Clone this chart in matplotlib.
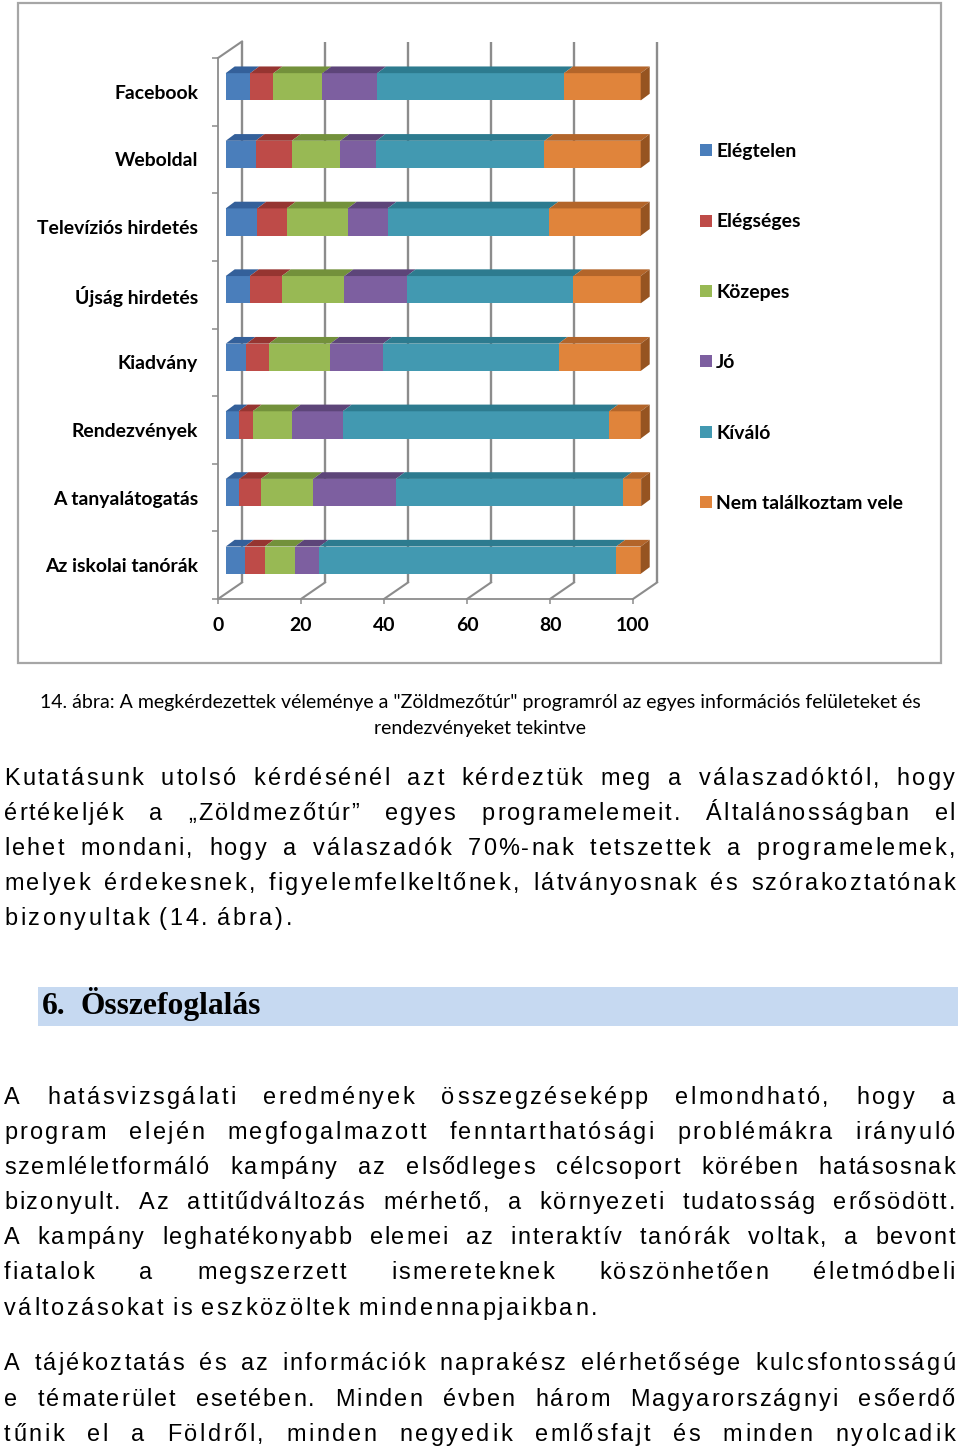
import matplotlib
matplotlib.use("Agg")
import matplotlib.pyplot as plt
import matplotlib.transforms as mtransforms
from matplotlib.patches import Polygon, Rectangle
from matplotlib.font_manager import FontProperties
import numpy as np

# chart data (bottom to top, as drawn)
CATEGORIES = ["Az iskolai tanórák", "A tanyalátogatás", "Rendezvények", "Kiadvány",
              "Újság hirdetés", "Televíziós hirdetés", "Weboldal", "Facebook"]
SERIES = ["Elégtelen", "Elégséges", "Közepes", "Jó", "Kíváló", "Nem találkoztam vele"]
elegtelen = [4.6, 3.3, 3.1, 5.0, 5.8, 7.6, 7.2, 5.9]
elegseges = [4.8, 5.2, 3.4, 5.4, 7.7, 7.1, 8.7, 5.6]
kozepes = [7.3, 12.6, 9.4, 14.8, 15.1, 14.7, 11.7, 11.8]
jo = [5.9, 19.9, 12.3, 12.7, 15.0, 9.6, 8.7, 13.2]
kivalo = [71.5, 54.7, 64.2, 42.3, 40.2, 39.0, 40.5, 45.0]
nem_talalkoztam = [5.9, 4.4, 7.6, 19.8, 16.2, 22.0, 23.2, 18.5]
X_TICKS = [0, 20, 40, 60, 80, 100]

FACE = ["#4a7ebb", "#be4b48", "#98b954", "#7d5fa0", "#4299b1", "#e0843b"]
TOP = ["#34609a", "#963531", "#73913b", "#5d4579", "#2d7b8f", "#b3652a"]
SIDE = "#965421"

CAPTION = ['14. ábra: A megkérdezettek véleménye a "Zöldmezőtúr" programról az egyes információs felületeket és',
           "rendezvényeket tekintve"]
HEADING_NUM = "6."
HEADING = "Összefoglalás"

# (text, letter spacing px, justified, y of line)
PARA = [
    ("Kutatásunk utolsó kérdésénél azt kérdeztük meg a válaszadóktól, hogy", 2.4, True, 778),
    ("értékeljék a „Zöldmezőtúr” egyes programelemeit. Általánosságban el", 2.0, True, 813),
    ("lehet mondani, hogy a válaszadók 70%-nak tetszettek a programelemek,", 2.2, True, 848),
    ("melyek érdekesnek, figyelemfelkeltőnek, látványosnak és szórakoztatónak", 2.3, True, 883),
    ("bizonyultak (14. ábra).", 2.75, False, 918),
    ("A hatásvizsgálati eredmények összegzéseképp elmondható, hogy a", 2.4, True, 1097),
    ("program elején megfogalmazott fenntarthatósági problémákra irányuló", 2.4, True, 1132),
    ("szemléletformáló kampány az elsődleges célcsoport körében hatásosnak", 1.8, True, 1167),
    ("bizonyult. Az attitűdváltozás mérhető, a környezeti tudatosság erősödött.", 1.9, True, 1202),
    ("A kampány leghatékonyabb elemei az interaktív tanórák voltak, a bevont", 1.8, True, 1237),
    ("fiatalok a megszerzett ismereteknek köszönhetően életmódbeli", 2.1, True, 1272),
    ("változásokat is eszközöltek mindennapjaikban.", 2.55, False, 1308),
    ("A tájékoztatás és az információk naprakész elérhetősége kulcsfontosságú", 2.2, True, 1363),
    ("e tématerület esetében. Minden évben három Magyarországnyi esőerdő", 2.0, True, 1399),
    ("tűnik el a Földről, minden negyedik emlősfajt és minden nyolcadik", 2.6, True, 1434),
]

W, H, DPI = 960, 1451, 100
fig = plt.figure(figsize=(W / DPI, H / DPI), dpi=DPI)
fig.patch.set_facecolor("white")
renderer = fig.canvas.get_renderer()


def fx(x):
    return x / W


def fy(y):
    return 1 - y / H


def tw(s, fp):
    return renderer.get_text_width_height_descent(s, fp, ismath=False)[0]


def adv(c, fp):
    return tw("|" + c + "|", fp) - tw("||", fp)


def fit(s, family, weight, target):
    fp = FontProperties(family=family, weight=weight, size=20)
    return 20 * target / tw(s, fp)


LAB_FONT = "Lato"
lab_size = fit("Televíziós hirdetés", LAB_FONT, "bold", 161)

# chart frame
fig.patches.append(Rectangle((fx(18), fy(663)), 923 / W, 660 / H, transform=fig.transFigure,
                             fill=False, ec="#a6a6a6", lw=1.6))

ax = fig.add_axes([fx(218), fy(599), 415 / W, 541 / H])
ax.patch.set_alpha(0)
PX_X = 415 / 100
PX_Y = 541 / 8

bar_tr = ax.transData + mtransforms.ScaledTranslation(7.7 / DPI, 5 / DPI, fig.dpi_scale_trans)
wall_tr = ax.transData + mtransforms.ScaledTranslation(24 / DPI, 16.5 / DPI, fig.dpi_scale_trans)
bdx, bdy = 9 / PX_X, 6.7 / PX_Y
wdx, wdy = 24 / PX_X, 16.5 / PX_Y
bh = 27.3 / PX_Y
grid_c = "#8c8c8c"

# back wall and floor lines
ax.vlines(X_TICKS, -0.5, 7.5, colors=grid_c, lw=1.7, transform=wall_tr, clip_on=False, zorder=1)
for t in X_TICKS:
    ax.plot([t, t + wdx], [-0.5, -0.5 + wdy], color=grid_c, lw=1.5, clip_on=False, zorder=1)
ax.plot([0, wdx], [7.5, 7.5 + wdy], color=grid_c, lw=1.5, clip_on=False, zorder=1)

ypos = np.arange(len(CATEGORIES))
left = np.zeros(len(CATEGORIES))
for vals, face, top in zip([elegtelen, elegseges, kozepes, jo, kivalo, nem_talalkoztam], FACE, TOP):
    vals = np.array(vals)
    ax.barh(ypos, vals, left=left, height=bh, color=face, lw=0, transform=bar_tr,
            clip_on=False, zorder=3)
    for yi, l, v in zip(ypos, left, vals):
        ax.add_patch(Polygon([(l, yi + bh / 2), (l + v, yi + bh / 2),
                              (l + v + bdx, yi + bh / 2 + bdy), (l + bdx, yi + bh / 2 + bdy)],
                             closed=True, fc=top, lw=0, transform=bar_tr, clip_on=False, zorder=3))
    left = left + vals
for yi, l in zip(ypos, left):
    ax.add_patch(Polygon([(l, yi - bh / 2), (l + bdx, yi - bh / 2 + bdy),
                          (l + bdx, yi + bh / 2 + bdy), (l, yi + bh / 2)],
                         closed=True, fc=SIDE, lw=0, transform=bar_tr, clip_on=False, zorder=3))

ax.set_xlim(0, 100)
ax.set_ylim(-0.5, 7.5)
for s in ["top", "right"]:
    ax.spines[s].set_visible(False)
for s in ["left", "bottom"]:
    ax.spines[s].set_color(grid_c)
    ax.spines[s].set_linewidth(1.3)
ax.set_xticks(X_TICKS, labels=[str(t) for t in X_TICKS], fontsize=lab_size,
              fontweight="bold", family=LAB_FONT)
ax.set_yticks(ypos, labels=CATEGORIES, fontsize=lab_size, fontweight="bold", family=LAB_FONT)
ax.set_yticks(np.arange(-0.5, 8, 1), minor=True)
ax.tick_params(axis="x", length=3.6, width=1.1, color=grid_c, pad=9.5)
ax.tick_params(axis="y", which="major", length=0, pad=14.4)
ax.tick_params(axis="y", which="minor", length=4.3, width=1.1, color=grid_c)

# legend
leg_y = [150, 220.5, 291, 361, 431.5, 502]
for name, face, ly in zip(SERIES, FACE, leg_y):
    fig.patches.append(Rectangle((fx(700), fy(ly + 6)), 12 / W, 12 / H, transform=fig.transFigure,
                                 fc=face, lw=0))
    fig.text(fx(716), fy(ly), name, fontsize=lab_size, fontweight="bold", family=LAB_FONT,
             va="center_baseline", ha="left")

# caption
cap_size = fit(CAPTION[0], "Lato", "normal", 882)
fig.text(fx(480), fy(708), CAPTION[0], fontsize=cap_size, family="Lato", ha="center", va="baseline")
fig.text(fx(480), fy(734), CAPTION[1], fontsize=cap_size, family="Lato", ha="center", va="baseline")

# heading band
fig.patches.append(Rectangle((fx(38), fy(1026)), 920 / W, 39 / H, transform=fig.transFigure,
                             fc="#c6d9f1", lw=0))
head_size = fit(HEADING, "Liberation Serif", "bold", 180)
fig.text(fx(42), fy(1014), HEADING_NUM, fontsize=head_size, fontweight="bold",
         family="Liberation Serif", va="baseline")
fig.text(fx(80), fy(1014), HEADING, fontsize=head_size, fontweight="bold",
         family="Liberation Serif", va="baseline")

# body text, justified
body_size = fit("szemléletformáló", "Liberation Sans", "normal", 177)
body_fp = FontProperties(family="Liberation Sans", size=body_size)
X0, X1 = 4, 955
space_w = tw("| |", body_fp) - tw("||", body_fp)


def word_width(wd, ls):
    return sum(adv(c, body_fp) for c in wd) + ls * (len(wd) - 1)


for text, ls, justify, yc in PARA:
    words = text.split(" ")
    widths = [word_width(wd, ls) for wd in words]
    if justify:
        gap = (X1 - X0 - sum(widths)) / (len(words) - 1)
    else:
        gap = space_w + ls
    x = X0
    yb = fy(yc + 7)
    for wd, ww in zip(words, widths):
        cx = x
        for c in wd:
            fig.text(fx(cx), yb, c, fontproperties=body_fp, va="baseline")
            cx += adv(c, body_fp) + ls
        x += ww + gap

fig.savefig("out.png", dpi=DPI)
